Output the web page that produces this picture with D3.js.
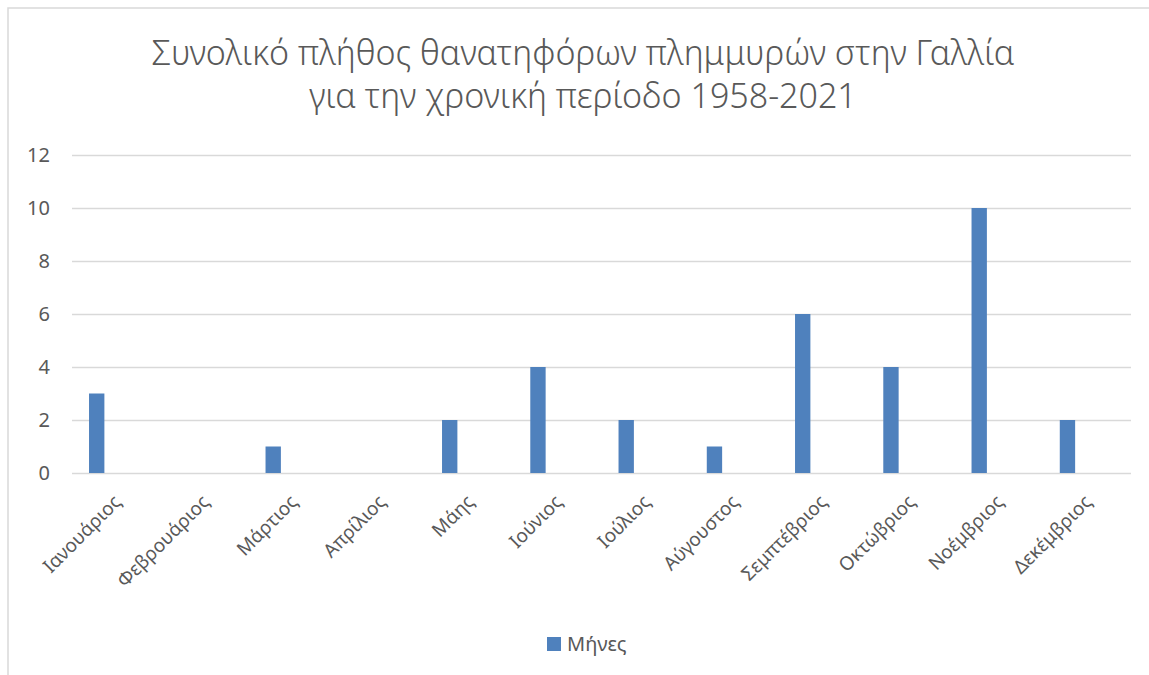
<!DOCTYPE html>
<html>
<head>
<meta charset="utf-8">
<script src="https://cdn.jsdelivr.net/npm/d3@7"></script>
<style>
  body { margin: 0; background: #fff; }
  text { font-family: "Noto Sans", sans-serif; fill: #595959; }
</style>
</head>
<body>
<svg id="svg" width="1149" height="675"></svg>
<script>
const width = 1149;
const height = 675;
const barColor = '#4f81bd';
const gridColor = '#d9d9d9';

const titleLines = [
	'Συνολικό πλήθος θανατηφόρων πλημμυρών στην Γαλλία',
	'για την χρονική περίοδο 1958-2021'
];
const seriesName = 'Μήνες';
const months = ['Ιανουάριος', 'Φεβρουάριος', 'Μάρτιος', 'Απρίλιος', 'Μάης', 'Ιούνιος',
	'Ιούλιος', 'Αύγουστος', 'Σεμπτέβριος', 'Οκτώβριος', 'Νοέμβριος', 'Δεκέμβριος'];
const counts = [3, 0, 1, 0, 2, 4, 2, 1, 6, 4, 10, 2];
const yTicks = [0, 2, 4, 6, 8, 10, 12];

const plot = {
	left: 72,
	right: 1131,
	top: 155,
	bottom: 473
};

const svg = d3.select('#svg');

// chart frame (only top and left edges show in the picture)
svg.append('path')
	.attr('d', `M8,${height} L8,8 L${width},8`)
	.attr('fill', 'none')
	.attr('stroke', gridColor)
	.attr('stroke-width', 1.5);

const xScale = d3.scaleBand()
	.domain(months)
	.range([plot.left, plot.right]);

// bars sit left of the category centre, as in the workbook
const inBand = d3.scaleLinear()
	.domain([0, 1])
	.range([0, xScale.bandwidth()]);
const barStart = 0.193;
const barFrac = 0.174;

const yScale = d3.scaleLinear()
	.domain([0, 12])
	.range([plot.bottom, plot.top]);

const yAxis = d3.axisLeft(yScale)
	.tickValues(yTicks)
	.tickSize(-(plot.right - plot.left))
	.tickPadding(22);

const yg = svg.append('g')
	.attr('transform', 'translate(' + plot.left + ',0)')
	.call(yAxis);
yg.select('.domain').remove();
yg.selectAll('line').attr('stroke', gridColor).attr('stroke-width', 1.5);
yg.selectAll('text')
	.style('font-size', '20px')
	.attr('fill', '#595959');

svg.selectAll(null)
	.data(counts)
	.enter()
	.append('rect')
	.attr('x', (d, i) => xScale(months[i]) + inBand(barStart))
	.attr('y', d => yScale(d))
	.attr('width', inBand(barFrac))
	.attr('height', d => yScale(0) - yScale(d))
	.attr('fill', barColor);

svg.selectAll(null)
	.data(months)
	.enter()
	.append('text')
	.attr('transform', d => `translate(${xScale(d) + xScale.bandwidth() / 2 + 6},503) rotate(-45)`)
	.attr('text-anchor', 'end')
	.style('font-size', '19px')
	.text(d => d);

svg.selectAll(null)
	.data(titleLines)
	.enter()
	.append('text')
	.attr('x', 583)
	.attr('y', (d, i) => 65 + i * 43)
	.attr('text-anchor', 'middle')
	.style('font-size', '34px')
	.style('font-weight', 300)
	.text(d => d);

const legend = svg.append('g')
	.attr('transform', 'translate(547,637)');
legend.append('rect')
	.attr('width', 14)
	.attr('height', 14)
	.attr('fill', barColor);
legend.append('text')
	.attr('x', 20)
	.attr('y', 14)
	.style('font-size', '20px')
	.text(seriesName);
</script>
</body>
</html>
